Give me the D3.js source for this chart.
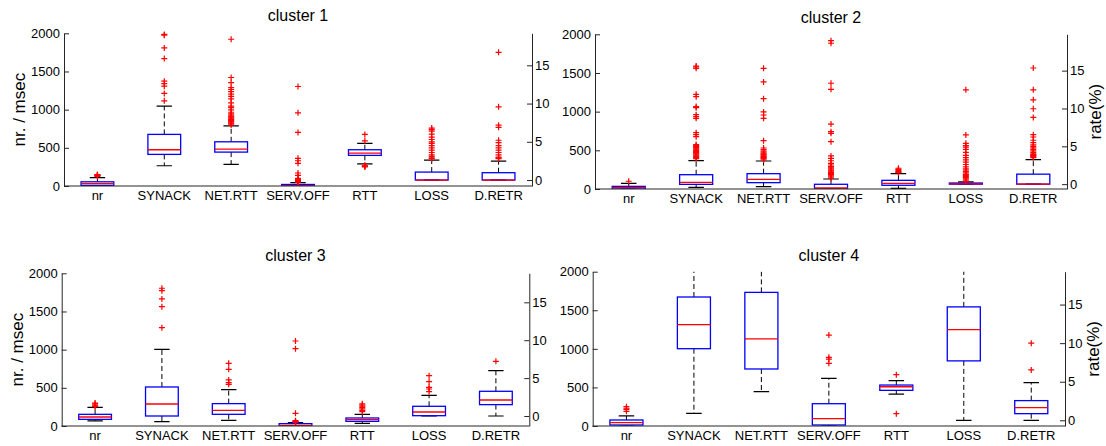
<!DOCTYPE html>
<html>
<head>
<meta charset="utf-8">
<script src="https://cdn.jsdelivr.net/npm/d3@7"></script>
<style>
  body { margin: 0; background: #fff; }
  text { font-family: "Liberation Sans", Arial, Helvetica, sans-serif; fill: #000; }
</style>
</head>
<body>
<svg id="chart" width="1106" height="446"></svg>
<script>
// Metrics on the x axis; the last two are rates read against the right axis
const categories = ["nr", "SYNACK", "NET.RTT", "SERV.OFF", "RTT", "LOSS", "D.RETR"];
const rateCategories = ["LOSS", "D.RETR"];
const leftTicks = [0, 500, 1000, 1500, 2000];
const rateTicks = [0, 5, 10, 15];
const clusterTitles = ["cluster 1", "cluster 2", "cluster 3", "cluster 4"];

// Box statistics per metric: [lower whisker, q1, median, q3, upper whisker]
const cluster1Boxes = [
  [0, 8, 30, 55, 110],
  [265, 414, 475, 676, 1046],
  [284, 444, 484, 579, 788],
  [0, 0, 4, 20, 45],
  [290, 401, 431, 475, 558],
  [0, 0, 0, 1.04, 2.6],
  [0, 0, 0, 0.96, 2.48]
];
const cluster1Outliers = [
  [125, 135, 140, 145, 150],
  [1115, 1212, 1307, 1342, 1373, 1669, 1808, 1975, 1985],
  [800, 815, 826, 840, 848, 860, 870, 880, 892, 905, 914, 930, 944, 966, 996, 1026, 1046, 1090, 1140, 1175, 1203, 1236, 1265, 1290, 1355, 1421, 1922],
  [50, 55, 60, 65, 70, 75, 80, 90, 100, 140, 170, 297, 331, 362, 702, 958, 1303],
  [250, 258, 265, 272, 592, 676],
  [2.8, 2.9, 3.1, 3.3, 3.6, 3.9, 4.2, 4.5, 4.8, 5.0, 5.3, 5.6, 6.0, 6.4, 6.6, 6.8],
  [2.8, 2.9, 3.0, 3.3, 3.6, 3.9, 4.2, 4.5, 4.9, 5.2, 6.9, 7.18, 9.57, 16.7]
];

const cluster2Boxes = [
  [0, 0, 17, 34, 73],
  [22, 60, 86, 185, 366],
  [30, 82, 125, 198, 362],
  [0, 0, 13, 61, 129],
  [9, 48, 74, 112, 198],
  [0, 0, 0.05, 0.15, 0.3],
  [0, 0, 0, 1.32, 3.25]
];
const cluster2Outliers = [
  [100],
  [392, 405, 418, 430, 440, 453, 465, 474, 485, 496, 507, 517, 528, 539, 550, 560, 575, 677, 703, 728, 914, 935, 961, 1052, 1065, 1194, 1224, 1560, 1580, 1590],
  [375, 390, 400, 410, 418, 430, 440, 450, 462, 475, 490, 510, 530, 625, 914, 957, 996, 1168, 1384, 1560],
  [140, 155, 170, 185, 200, 215, 230, 245, 260, 275, 290, 310, 330, 365, 397, 427, 612, 720, 741, 840, 1289, 1367, 1884, 1918],
  [211, 218, 225, 240, 255, 268],
  [0.4, 0.55, 0.7, 0.85, 1.0, 1.15, 1.3, 1.5, 1.7, 1.9, 2.1, 2.3, 2.6, 2.9, 3.2, 3.5, 3.8, 4.2, 4.6, 4.9, 5.1, 5.4, 6.5, 12.46],
  [3.5, 3.6, 3.7, 3.8, 3.9, 4.0, 4.2, 4.4, 4.6, 4.8, 5.0, 5.2, 5.5, 5.8, 6.23, 6.54, 8.82, 9.96, 11.14, 12.46, 15.35]
];

const cluster3Boxes = [
  [66, 87, 118, 153, 245],
  [57, 131, 288, 511, 1004],
  [74, 153, 205, 293, 476],
  [0, 0, 9, 31, 44],
  [35, 61, 83, 105, 153],
  [0, 0.04, 0.53, 1.28, 2.73],
  [0, 1.5, 2.11, 3.26, 5.98]
];
const cluster3Outliers = [
  [255, 265, 275, 290, 300],
  [1288, 1563, 1664, 1773, 1804],
  [546, 568, 603, 742, 821],
  [50, 55, 60, 70, 166, 1013, 1113],
  [188, 205, 225, 245, 260, 275, 290],
  [3.21, 3.56, 3.78, 4.53, 5.32],
  [7.22]
];

const cluster4Boxes = [
  [0, 13, 43, 78, 130],
  [164, 1002, 1313, 1672, 2400],
  [445, 739, 1128, 1732, 2400],
  [0, 13, 95, 289, 618],
  [414, 462, 509, 531, 587],
  [0, 7.70, 11.76, 14.7, 24],
  [0, 0.86, 1.64, 2.55, 4.89]
];
const cluster4Outliers = [
  [190, 215, 230, 250],
  [],
  [],
  [812, 868, 890, 1179],
  [160, 665],
  [],
  [6.53, 9.99]
];

// Visible range of the rate axis in each panel
const rateDomains = [[-0.78, 19.19], [-0.64, 19.8], [-1.32, 18.83], [-0.74, 19.26]];

const boxesByCluster = [cluster1Boxes, cluster2Boxes, cluster3Boxes, cluster4Boxes];
const outliersByCluster = [cluster1Outliers, cluster2Outliers, cluster3Outliers, cluster4Outliers];

// Panel frames
const panels = [
  { x0: 64,    x1: 532,  top: 33.3,  bottom: 186, titleY: 20.5,  leftLabel: true,  rightLabel: false },
  { x0: 595,   x1: 1067, top: 34.3,  bottom: 189, titleY: 22.5,  leftLabel: false, rightLabel: true },
  { x0: 61.7,  x1: 529.3, top: 273.3, bottom: 426, titleY: 261, leftLabel: true,  rightLabel: false },
  { x0: 592.7, x1: 1065, top: 271.7, bottom: 426, titleY: 260.5, leftLabel: false, rightLabel: true }
];

const svg = d3.select("#chart");
const BLUE = "#0000ff", RED = "#ff0000", AXIS = "#262626";

panels.forEach((p, pi) => {
  const g = svg.append("g");
  const x = d3.scalePoint().domain(categories).range([p.x0, p.x1]).padding(0.5);
  const yL = d3.scaleLinear().domain([0, 2000]).range([p.bottom, p.top]);
  const yR = d3.scaleLinear().domain(rateDomains[pi]).range([p.bottom, p.top]);
  const step = x.step();
  const boxW = step * 0.49;
  const capW = step * 0.23;

  const clipId = "clip" + pi;
  svg.append("clipPath").attr("id", clipId)
    .append("rect").attr("x", p.x0).attr("y", p.top).attr("width", p.x1 - p.x0).attr("height", p.bottom - p.top);

  const boxes = boxesByCluster[pi];
  const outs = outliersByCluster[pi];

  categories.forEach((c, ci) => {
    const y = rateCategories.includes(c) ? yR : yL;
    const [lo, q1, med, q3, hi] = boxes[ci];
    const cx = x(c);
    const bg = g.append("g").attr("clip-path", `url(#${clipId})`);

    // whiskers
    bg.append("line").attr("x1", cx).attr("x2", cx).attr("y1", y(q3)).attr("y2", y(hi))
      .attr("stroke", "#000").attr("stroke-width", 1).attr("stroke-dasharray", "5,3");
    bg.append("line").attr("x1", cx).attr("x2", cx).attr("y1", y(q1)).attr("y2", y(lo))
      .attr("stroke", "#000").attr("stroke-width", 1).attr("stroke-dasharray", "5,3");
    // caps
    [lo, hi].forEach(v => {
      bg.append("line").attr("x1", cx - capW / 2).attr("x2", cx + capW / 2)
        .attr("y1", y(v)).attr("y2", y(v)).attr("stroke", "#000").attr("stroke-width", 1.2);
    });
    // box
    bg.append("rect").attr("x", cx - boxW / 2).attr("y", y(q3))
      .attr("width", boxW).attr("height", Math.max(0.5, y(q1) - y(q3)))
      .attr("fill", "none").attr("stroke", BLUE).attr("stroke-width", 1.3);
    // median
    bg.append("line").attr("x1", cx - boxW / 2).attr("x2", cx + boxW / 2)
      .attr("y1", y(med)).attr("y2", y(med)).attr("stroke", RED).attr("stroke-width", 1.3);

    // outliers
    g.selectAll(null).data(outs[ci]).enter().append("path")
      .attr("transform", d => `translate(${cx},${y(d)})`)
      .attr("d", "M-3,0H3M0,-3V3")
      .attr("stroke", RED).attr("stroke-width", 1.2).attr("fill", "none");
  });

  // axes
  const leftAxis = d3.axisLeft(yL).tickValues(leftTicks).tickFormat(d3.format("d"))
    .tickSizeInner(-5).tickSizeOuter(0).tickPadding(4);
  const rightAxis = d3.axisRight(yR).tickValues(rateTicks).tickFormat(d3.format("d"))
    .tickSizeInner(-5).tickSizeOuter(0).tickPadding(3);

  const la = g.append("g").attr("transform", `translate(${p.x0},0)`).call(leftAxis);
  const ra = g.append("g").attr("transform", `translate(${p.x1},0)`).call(rightAxis);
  [la, ra].forEach(a => {
    a.select(".domain").attr("stroke", AXIS);
    a.selectAll(".tick line").attr("stroke", AXIS);
    a.selectAll("text").style("font-size", "13px").attr("fill", "#000");
  });

  // bottom baseline
  g.append("line").attr("x1", p.x0).attr("x2", p.x1).attr("y1", p.bottom).attr("y2", p.bottom)
    .attr("stroke", AXIS).attr("stroke-width", 1);

  // category labels
  g.selectAll(null).data(categories).enter().append("text")
    .attr("x", d => x(d)).attr("y", p.bottom + 13.5)
    .attr("text-anchor", "middle").style("font-size", "13px").text(d => d);

  // title
  g.append("text").attr("x", (p.x0 + p.x1) / 2).attr("y", p.titleY)
    .attr("text-anchor", "middle").style("font-size", "16px").text(clusterTitles[pi]);

  if (p.leftLabel) {
    g.append("text")
      .attr("transform", `translate(${p.x0 - 39},${(p.top + p.bottom) / 2}) rotate(-90)`)
      .attr("text-anchor", "middle").style("font-size", "17px").text("nr. / msec");
  }
  if (p.rightLabel) {
    g.append("text")
      .attr("transform", `translate(${p.x1 + 34},${(p.top + p.bottom) / 2}) rotate(-90)`)
      .attr("text-anchor", "middle").style("font-size", "17px").text("rate(%)");
  }
});
</script>
</body>
</html>
